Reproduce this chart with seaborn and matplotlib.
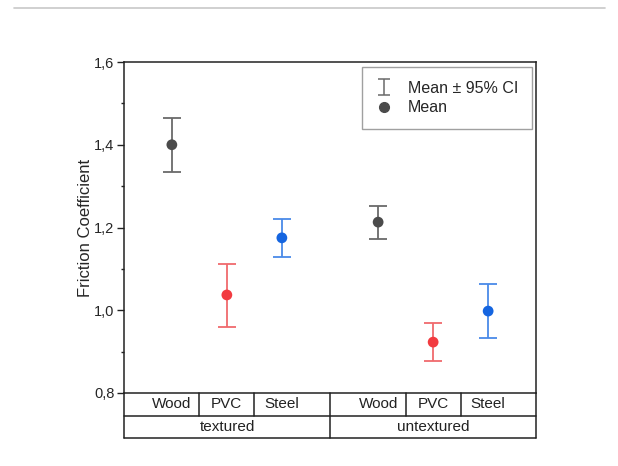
import numpy as np
import pandas as pd
import matplotlib
matplotlib.use("Agg")
import matplotlib.pyplot as plt
import matplotlib.lines as mlines
import seaborn as sns

# ---- data ----
surfaces = ["textured", "textured", "textured", "untextured", "untextured", "untextured"]
materials = ["Wood", "PVC", "Steel", "Wood", "PVC", "Steel"]
means = [1.400, 1.037, 1.175, 1.213, 0.923, 0.998]
ci_low = [1.334, 0.960, 1.129, 1.172, 0.877, 0.933]
ci_high = [1.465, 1.112, 1.221, 1.252, 0.969, 1.063]
groups = ["textured", "untextured"]
yticks = [0.8, 1.0, 1.2, 1.4, 1.6]
ytick_labels = ["0,8", "1,0", "1,2", "1,4", "1,6"]

# styling
pos = [0, 1, 2, 3.75, 4.75, 5.75]
marker_colors = {"Wood": "#4b4b4b", "PVC": "#f23b40", "Steel": "#1565e0"}
line_colors = {"Wood": "#6a6a6a", "PVC": "#f06a6d", "Steel": "#4a8ae8"}

df = pd.DataFrame({"x": pos, "mean": means, "lo": ci_low, "hi": ci_high,
                   "material": materials, "surface": surfaces})

sns.set_theme(style="white")
plt.rcParams["font.family"] = ["Liberation Sans", "DejaVu Sans"]

fig = plt.figure(figsize=(6.18, 4.66), dpi=100)
ax = fig.add_axes([124 / 618, 1 - 393 / 466, 412 / 618, 331 / 466])

for _, r in df.iterrows():
    ax.errorbar([r["x"]], [r["mean"]],
                yerr=[[r["mean"] - r["lo"]], [r["hi"] - r["mean"]]],
                fmt="none", ecolor=line_colors[r["material"]], elinewidth=1.3,
                capsize=6.5, capthick=1.3, zorder=2)

sns.scatterplot(data=df, x="x", y="mean", hue="material", palette=marker_colors,
                s=60, edgecolor="none", legend=False, ax=ax, zorder=3)

ax.set_xlim(-0.87, 6.62)
ax.set_ylim(0.8, 1.6)
ax.set_yticks(yticks)
ax.set_yticklabels(ytick_labels, fontsize=10.5)
ax.set_yticks([0.9, 1.1, 1.3, 1.5], minor=True)
ax.tick_params(axis="y", which="major", direction="out", length=5, width=1, left=True, color="#222222", pad=2)
ax.tick_params(axis="y", which="minor", direction="out", length=2.5, width=1, left=True, color="#222222")
ax.set_xticks([])
ax.set_xlabel("")
ax.set_ylabel("Friction Coefficient", fontsize=12, labelpad=1)
for sp in ax.spines.values():
    sp.set_color("#222222")
    sp.set_linewidth(1.1)

# legend
h_ci = ax.errorbar([-10], [1.0], yerr=[0.05], fmt="none", ecolor="#6a6a6a",
                   elinewidth=1.1, capsize=4, capthick=1.1)
h_mean = mlines.Line2D([], [], color="#4b4b4b", marker="o", linestyle="none", markersize=7)
leg = ax.legend([h_ci, h_mean], ["Mean ± 95% CI", "Mean"], loc="upper right",
                fontsize=11.5, frameon=True, fancybox=False, edgecolor="#888888",
                borderaxespad=0.0, borderpad=0.85, handlelength=1.0, handletextpad=1.0,
                labelspacing=0.3, bbox_to_anchor=(0.990, 0.985))
leg.get_frame().set_linewidth(1.0)

# category table below axes
kw = dict(transform=ax.get_xaxis_transform(), clip_on=False, color="#222222", lw=1.1)
r1 = -23 / 331
r2 = -45 / 331
x0, x1 = ax.get_xlim()
ax.plot([x0, x1], [r1, r1], **kw)
ax.plot([x0, x1], [r2, r2], **kw)
ax.plot([x0, x0], [0, r2], **kw)
ax.plot([x1, x1], [0, r2], **kw)
bounds = [0.5, 1.5, 4.25, 5.25]
for b in bounds:
    ax.plot([b, b], [0, r1], **kw)
mid = (pos[2] + pos[3]) / 2
ax.plot([mid, mid], [0, r2], **kw)
for xp, m in zip(pos, materials):
    ax.text(xp, r1 / 2, m, transform=ax.get_xaxis_transform(), ha="center", va="center",
            fontsize=11, color="#222222")
ax.text((x0 + mid) / 2, (r1 + r2) / 2, groups[0], transform=ax.get_xaxis_transform(),
        ha="center", va="center", fontsize=11, color="#222222")
ax.text((mid + x1) / 2, (r1 + r2) / 2, groups[1], transform=ax.get_xaxis_transform(),
        ha="center", va="center", fontsize=11, color="#222222")

# top gray rule
fig.add_artist(mlines.Line2D([14 / 618, 605 / 618], [1 - 8 / 466, 1 - 8 / 466],
                             color="#c8c8c8", lw=1.2, transform=fig.transFigure))

fig.savefig("out.png", dpi=100)
